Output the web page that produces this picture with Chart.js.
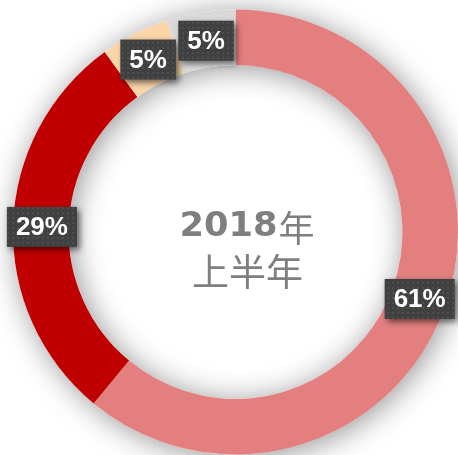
<!DOCTYPE html>
<html>
<head>
<meta charset="utf-8">
<script src="https://cdn.jsdelivr.net/npm/chart.js@4"></script>
<style>
  html, body { margin: 0; padding: 0; background: #fff; }
  #wrap { width: 458px; height: 455px; position: relative; }
</style>
</head>
<body>
<div id="wrap"><canvas id="ringChart"></canvas></div>
<script>
// data (clockwise from 12 o'clock)
const categories = ['类别一', '类别二', '类别三', '类别四'];
const shares = [61, 29, 5, 5];
const yearText = '2018';
const yearSuffix = '年';
const periodText = '上半年';

const sliceColors = ['#e37f7f', '#c00000', '#f9d5a8', '#d9d9d9'];

// little dotted fill for the label boxes
function makeDots() {
  const c = document.createElement('canvas');
  c.width = 5; c.height = 5;
  const g = c.getContext('2d');
  g.fillStyle = '#404040';
  g.fillRect(0, 0, 5, 5);
  g.fillStyle = '#4e4e4e';
  g.fillRect(2, 2, 2, 2);
  return g.createPattern(c, 'repeat');
}

// soft shadow under the whole ring
const ringShadow = {
  id: 'ringShadow',
  beforeDatasetsDraw(chart) {
    const arc = chart.getDatasetMeta(0).data[0];
    if (!arc) return;
    const ctx = chart.ctx;
    ctx.save();
    ctx.beginPath();
    ctx.arc(arc.x, arc.y, arc.outerRadius, 0, Math.PI * 2);
    ctx.arc(arc.x, arc.y, arc.innerRadius, 0, Math.PI * 2, true);
    ctx.shadowColor = 'rgba(0,0,0,0.42)';
    ctx.shadowBlur = 30;
    ctx.shadowOffsetX = 3;
    ctx.shadowOffsetY = 3;
    ctx.fillStyle = '#ffffff';
    ctx.fill('evenodd');
    ctx.restore();
  }
};

// dark percentage boxes + centre text
const ringLabels = {
  id: 'ringLabels',
  afterDatasetsDraw(chart) {
    const ctx = chart.ctx;
    const meta = chart.getDatasetMeta(0);
    const dots = makeDots();
    ctx.save();
    ctx.font = 'bold 26px "Liberation Sans", Arial, sans-serif';
    ctx.textAlign = 'center';
    ctx.textBaseline = 'middle';
    meta.data.forEach((el, i) => {
      const p = el.tooltipPosition();
      const txt = shares[i] + '%';
      const w = ctx.measureText(txt).width + 18;
      const h = 40;
      ctx.save();
      ctx.shadowColor = 'rgba(0,0,0,0.55)';
      ctx.shadowBlur = 6;
      ctx.shadowOffsetX = 3;
      ctx.shadowOffsetY = 3;
      ctx.fillStyle = dots;
      ctx.fillRect(p.x - w / 2 + 1, p.y - h / 2 + 1, w, h);
      ctx.restore();
      ctx.fillStyle = '#ffffff';
      ctx.fillText(txt, p.x + 1, p.y + 2);
    });

    // centre text
    const a = meta.data[0];
    const cx = a.x, cy = a.y;
    ctx.fillStyle = '#7f7f7f';
    ctx.textAlign = 'left';
    ctx.textBaseline = 'alphabetic';
    ctx.font = 'bold 33px "DejaVu Sans", sans-serif';
    const natural = ctx.measureText(yearText).width;
    ctx.save();
    ctx.translate(cx - 56, cy + 4);
    ctx.scale(98 / natural, 1);
    ctx.fillText(yearText, 0, 0);
    ctx.restore();

    ctx.font = '36px "Noto Sans CJK SC", sans-serif';
    ctx.textBaseline = 'middle';
    ctx.fillText(yearSuffix, cx + 43, cy - 4);
    ctx.textAlign = 'center';
    ctx.font = '37px "Noto Sans CJK SC", sans-serif';
    ctx.fillText(periodText, cx + 12, cy + 40);
    ctx.restore();
  }
};

new Chart('ringChart', {
  type: 'doughnut',
  data: {
    labels: categories,
    datasets: [{
      data: shares,
      backgroundColor: sliceColors,
      borderWidth: 0
    }]
  },
  options: {
    responsive: true,
    maintainAspectRatio: false,
    animation: false,
    cutout: '75%',
    layout: { padding: { left: 13, top: 9, right: 0, bottom: 0 } },
    plugins: {
      legend: { display: false },
      tooltip: { enabled: false }
    }
  },
  plugins: [ringShadow, ringLabels]
});
</script>
</body>
</html>
